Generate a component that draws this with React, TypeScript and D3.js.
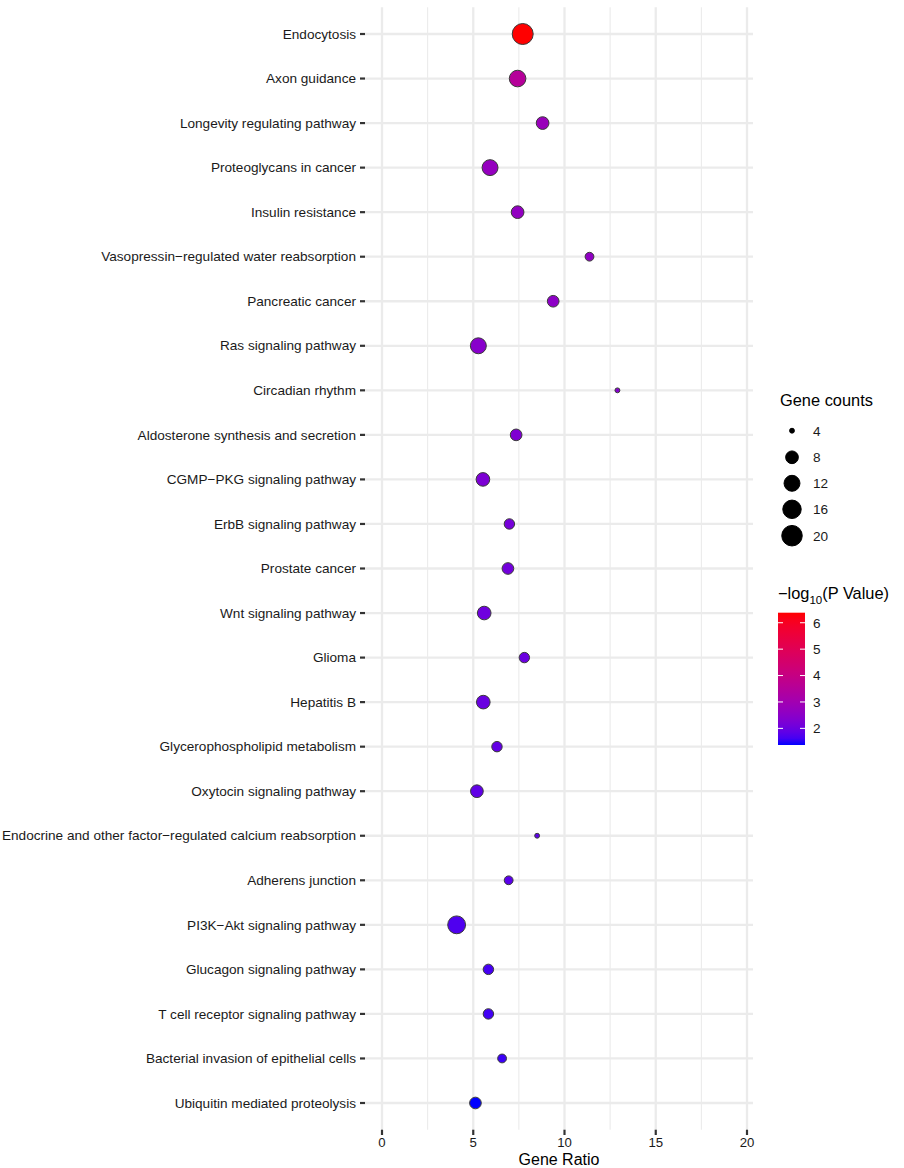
import React from "react";
import * as d3 from "d3";

const pathways = [
  "Endocytosis",
  "Axon guidance",
  "Longevity regulating pathway",
  "Proteoglycans in cancer",
  "Insulin resistance",
  "Vasopressin\u2212regulated water reabsorption",
  "Pancreatic cancer",
  "Ras signaling pathway",
  "Circadian rhythm",
  "Aldosterone synthesis and secretion",
  "CGMP\u2212PKG signaling pathway",
  "ErbB signaling pathway",
  "Prostate cancer",
  "Wnt signaling pathway",
  "Glioma",
  "Hepatitis B",
  "Glycerophospholipid metabolism",
  "Oxytocin signaling pathway",
  "Endocrine and other factor\u2212regulated calcium reabsorption",
  "Adherens junction",
  "PI3K\u2212Akt signaling pathway",
  "Glucagon signaling pathway",
  "T cell receptor signaling pathway",
  "Bacterial invasion of epithelial cells",
  "Ubiquitin mediated proteolysis",
];

const geneRatio = [7.71, 7.43, 8.8, 5.92, 7.43, 11.37, 9.38, 5.28, 12.9, 7.35, 5.53, 6.98, 6.9, 5.6, 7.8, 5.55, 6.3, 5.2, 8.5, 6.94, 4.09, 5.83, 5.83, 6.58, 5.12];

const geneCounts = [21, 13, 8, 12, 8, 5, 7, 12, 4, 7, 9, 6, 7, 9, 6, 9, 6, 8, 4, 5, 15, 6, 6, 5, 7];

const negLog10P = [6.38, 3.5, 2.8, 2.7, 2.65, 2.6, 2.55, 2.45, 2.4, 2.3, 2.25, 2.15, 2.1, 2.05, 2.0, 1.98, 1.9, 1.87, 1.83, 1.8, 1.7, 1.63, 1.6, 1.55, 1.37];

const xTicks = [0, 5, 10, 15, 20];
const xMinorTicks = [2.5, 7.5, 12.5, 17.5];
const sizeLegend = [4, 8, 12, 16, 20];
const colorTicks = [2, 3, 4, 5, 6];

const FONT = "'Liberation Sans', Arial, Helvetica, sans-serif";

export default function App() {
  const W = 904;
  const H = 1168;
  const panel = { left: 365, right: 753, top: 7.3, bottom: 1129.7 };

  const x = d3.scaleLinear().domain([0, 20]).range([382, 747]);
  const y = d3.scalePoint<string>().domain(pathways).range([34, 1103]);

  const pMin = d3.min(negLog10P) as number;
  const pMax = d3.max(negLog10P) as number;
  const color = d3
    .scaleLinear<string>()
    .domain([pMin, pMax])
    .range(["blue", "red"])
    .interpolate(d3.interpolateLab);

  const cMin = d3.min(geneCounts) as number;
  const cMax = d3.max(geneCounts) as number;
  const sizeSqrt = d3.scaleSqrt().domain([0, cMax - cMin]).range([4.9, 21]);
  const diam = (n: number) => sizeSqrt(Math.max(0, n - cMin));

  const cb = { x: 778, w: 27, top: 612.7, bottom: 745 };
  const cbScale = d3.scaleLinear().domain([pMin, pMax]).range([cb.bottom, cb.top]);
  const gradStops = d3.range(0, 1.0001, 0.05);

  const legendYs = [430.7, 457.3, 483.3, 509.3, 535.7];
  const AX = 13.6;

  return (
    <svg
      width={W}
      height={H}
      style={{ position: "absolute", left: 0, top: 0, background: "#fff" }}
      fontFamily={FONT}
    >
      <defs>
        <linearGradient id="cbgrad" x1="0" y1="1" x2="0" y2="0">
          {gradStops.map((t) => (
            <stop key={t} offset={t} stopColor={color(pMin + t * (pMax - pMin))} />
          ))}
        </linearGradient>
      </defs>
      <rect x={0} y={0} width={W} height={H} fill="#fff" />

      {xMinorTicks.map((v) => (
        <line key={"mn" + v} x1={x(v)} x2={x(v)} y1={panel.top} y2={panel.bottom} stroke="#ebebeb" strokeWidth={1.1} />
      ))}
      {xTicks.map((v) => (
        <line key={"mj" + v} x1={x(v)} x2={x(v)} y1={panel.top} y2={panel.bottom} stroke="#ebebeb" strokeWidth={2.3} />
      ))}
      {pathways.map((p) => (
        <line key={"h" + p} x1={panel.left} x2={panel.right} y1={y(p)} y2={y(p)} stroke="#ebebeb" strokeWidth={2.3} />
      ))}

      {pathways.map((p) => (
        <g key={"yl" + p}>
          <line x1={360} x2={365} y1={y(p)} y2={y(p)} stroke="#333" strokeWidth={2.2} />
          <text x={356} y={(y(p) as number) + 4.7} textAnchor="end" fontSize={AX} fill="#1a1a1a">
            {p}
          </text>
        </g>
      ))}

      {xTicks.map((v) => (
        <g key={"xt" + v}>
          <line x1={x(v)} x2={x(v)} y1={1129.7} y2={1135} stroke="#333" strokeWidth={2.2} />
          <text x={x(v)} y={1146.5} textAnchor="middle" fontSize={13.2} fill="#1a1a1a">
            {v}
          </text>
        </g>
      ))}
      <text x={(panel.left + panel.right) / 2} y={1164.5} textAnchor="middle" fontSize={16} fill="#000">
        Gene Ratio
      </text>

      {pathways.map((p, i) => (
        <circle
          key={"pt" + p}
          cx={x(geneRatio[i])}
          cy={y(p)}
          r={diam(geneCounts[i]) / 2}
          fill={color(negLog10P[i])}
          stroke="#3a3a3a"
          strokeWidth={1}
        />
      ))}

      <text x={780} y={406} fontSize={16.4} fill="#000">
        Gene counts
      </text>
      {sizeLegend.map((n, i) => (
        <g key={"sl" + n}>
          <circle cx={792} cy={legendYs[i]} r={diam(n) / 2} fill="#000" stroke="#000" strokeWidth={1} />
          <text x={813} y={legendYs[i] + 4.8} fontSize={AX} fill="#1a1a1a">
            {n}
          </text>
        </g>
      ))}

      <text x={778} y={599} fontSize={16.4} fill="#000">
        <tspan>{"\u2212log"}</tspan>
        <tspan fontSize={11.5} dy={4.5}>10</tspan>
        <tspan dy={-4.5}>(P Value)</tspan>
      </text>
      <rect x={cb.x} y={cb.top} width={cb.w} height={cb.bottom - cb.top} fill="url(#cbgrad)" />
      {colorTicks.map((v) => (
        <g key={"ct" + v}>
          <line x1={cb.x} x2={cb.x + 5} y1={cbScale(v)} y2={cbScale(v)} stroke="#fff" strokeWidth={1} />
          <line x1={cb.x + cb.w - 5} x2={cb.x + cb.w} y1={cbScale(v)} y2={cbScale(v)} stroke="#fff" strokeWidth={1} />
          <text x={813} y={cbScale(v) + 4.8} fontSize={AX} fill="#1a1a1a">
            {v}
          </text>
        </g>
      ))}
    </svg>
  );
}
